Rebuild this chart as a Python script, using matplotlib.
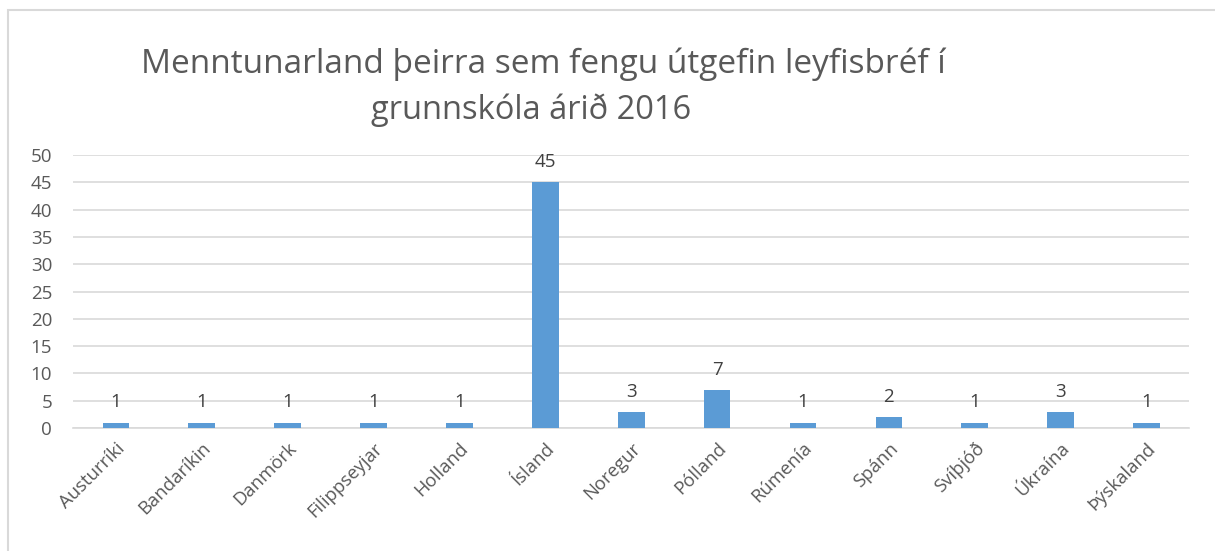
import matplotlib.pyplot as plt
import matplotlib.transforms as mtransforms
from matplotlib.patches import Rectangle

countries = ['Austurríki', 'Bandaríkin', 'Danmörk', 'Filippseyjar', 'Holland', 'Ísland',
             'Noregur', 'Pólland', 'Rúmenía', 'Spánn', 'Svíþjóð', 'Úkraína', 'Þýskaland']
counts = [1, 1, 1, 1, 1, 45, 3, 7, 1, 2, 1, 3, 1]
yticks = [0, 5, 10, 15, 20, 25, 30, 35, 40, 45, 50]

plt.rcParams['font.family'] = ['Open Sans', 'DejaVu Sans']
text_col = '#595959'

fig = plt.figure(figsize=(12.15, 5.51), dpi=100)
ax = fig.add_axes([0.060, 0.2232, 0.919, 0.4955])

# chart frame like the spreadsheet export
fig.patches.append(Rectangle((8 / 1215, -0.1), 1.2, 1 - 10 / 551 + 0.1, transform=fig.transFigure,
                             fill=False, edgecolor='#d9d9d9', linewidth=1.5, zorder=0))

x = list(range(len(countries)))
bars = ax.bar(x, counts, width=0.31, color='#5b9bd5', zorder=3)
for xi, v in zip(x, counts):
    ax.annotate(str(v), (xi, v), xytext=(0, 8), textcoords='offset points',
                ha='center', va='bottom', fontsize=13.5, color='#404040')

ax.set_xlim(-0.5, len(countries) - 0.5)
ax.set_ylim(0, 50)
ax.set_yticks(yticks)
ax.set_yticklabels([str(t) for t in yticks], fontsize=13.5, color=text_col)
ax.set_xticks(x)
ax.set_xticklabels(countries, rotation=45, ha='right', rotation_mode='anchor',
                   fontsize=13.3, color=text_col)
shift = mtransforms.ScaledTranslation(-0.08, 0, fig.dpi_scale_trans)
for lab in ax.get_xticklabels():
    lab.set_transform(lab.get_transform() + shift)
ax.tick_params(axis='both', length=0)
ax.tick_params(axis='y', pad=15)
ax.tick_params(axis='x', pad=8)
ax.grid(axis='y', color='#d9d9d9', linewidth=1.2, zorder=0)
for side in ['top', 'right', 'left']:
    ax.spines[side].set_visible(False)
ax.spines['bottom'].set_color('#d9d9d9')
ax.spines['bottom'].set_linewidth(1.2)

fig.text(0.447, 1 - 64 / 551, 'Menntunarland þeirra sem fengu útgefin leyfisbréf í',
         ha='center', va='center', fontsize=24, color=text_col)
fig.text(0.437, 1 - 110 / 551, 'grunnskóla árið 2016',
         ha='center', va='center', fontsize=23.5, color=text_col)

fig.savefig('out.png', dpi=100)
